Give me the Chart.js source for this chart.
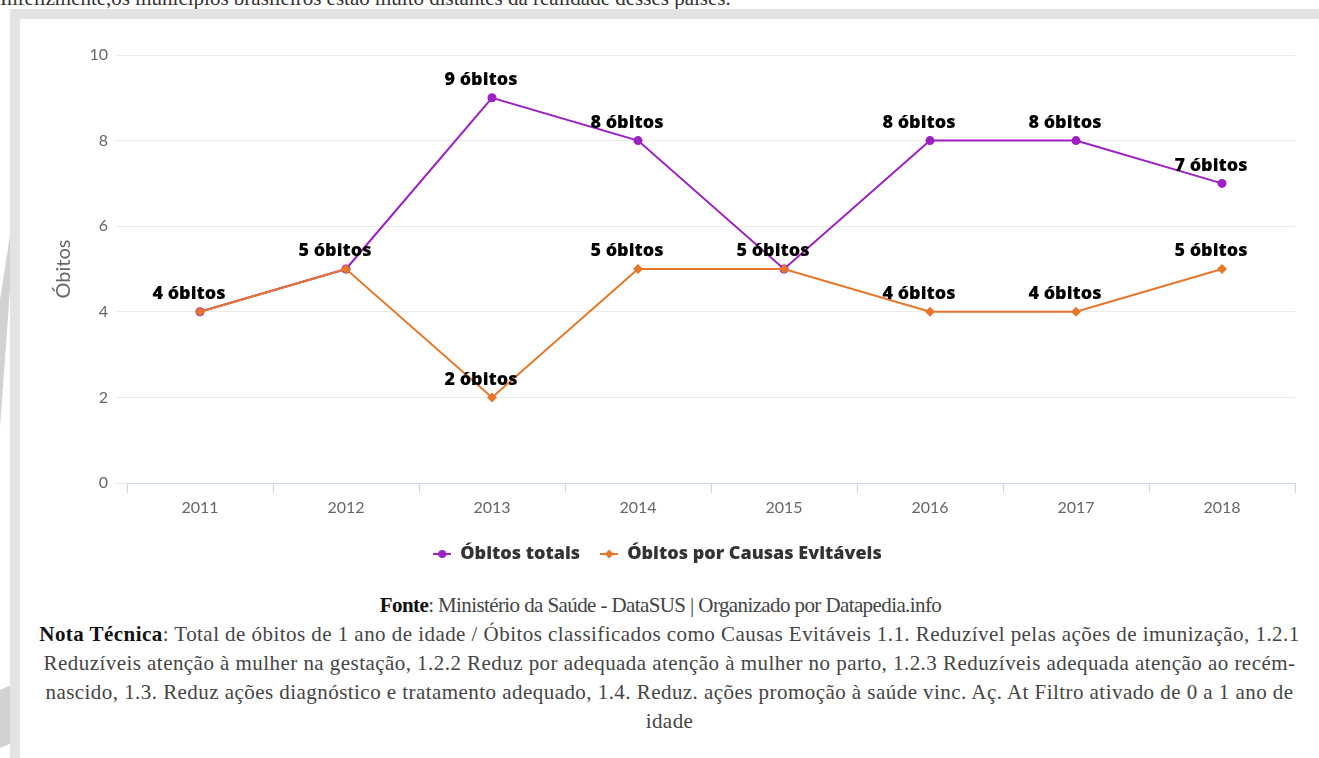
<!DOCTYPE html>
<html lang="pt-BR">
<head>
<meta charset="utf-8">
<title>Óbitos de 0 a 1 ano</title>
<script src="https://cdn.jsdelivr.net/npm/chart.js@4.4.0/dist/chart.umd.min.js"></script>
<style>
  html, body { margin: 0; padding: 0; background: #fff; overflow: hidden; }
  body { width: 1319px; height: 758px; position: relative; }
  .texto { font-family: "Liberation Serif", serif; color: #444; }
  #intro { position: absolute; left: 0; top: -14px; font-size: 21px; white-space: nowrap; color: #333; }
  #faixa { position: absolute; left: 0; top: 0; width: 20px; height: 758px; background: #d2d2d2;
           clip-path: polygon(0 300px, 12px 222px, 12px 262px, 0 428px, 0 690px, 16px 683px, 16px 741px, 0 748px); }
  #moldura { position: absolute; left: 10px; top: 9px; right: 0; bottom: 0; background: #e3e3e3; }
  #painel { position: absolute; left: 20px; top: 19px; right: 0; bottom: 0; background: #fff; }
  #grafico { position: absolute; left: 0; top: 0; }
  #nota { position: absolute; left: 0; right: 0; top: 572px; text-align: center; font-size: 21px;
          letter-spacing: 0.45px; line-height: 29px; white-space: nowrap; }
  #nota p { margin: 0; }
  #nota p.fonte { letter-spacing: -0.6px; padding-right: 18px; }
  #nota b { color: #111; }
</style>
</head>
<body>
<div id="intro" class="texto">Infelizmente,os municípios brasileiros estão muito distantes da realidade desses países.</div>
<div id="faixa"></div>
<div id="moldura"></div>
<div id="painel">
  <canvas id="grafico" width="1299" height="556"></canvas>
  <div id="nota" class="texto">
    <p class="fonte"><b>Fonte</b>: Ministério da Saúde - DataSUS | Organizado por Datapedia.info</p>
    <p><b>Nota Técnica</b>: Total de óbitos de 1 ano de idade / Óbitos classificados como Causas Evitáveis 1.1. Reduzível pelas ações de imunização, 1.2.1<br>
    Reduzíveis atenção à mulher na gestação, 1.2.2 Reduz por adequada atenção à mulher no parto, 1.2.3 Reduzíveis adequada atenção ao recém-<br>
    nascido, 1.3. Reduz ações diagnóstico e tratamento adequado, 1.4. Reduz. ações promoção à saúde vinc. Aç. At Filtro ativado de 0 a 1 ano de<br>
    idade</p>
  </div>
</div>

<script>
// anos e séries
const anos = ["2011", "2012", "2013", "2014", "2015", "2016", "2017", "2018"];
const obitosTotais = [4, 5, 9, 8, 5, 8, 8, 7];
const obitosEvitaveis = [4, 5, 2, 5, 5, 4, 4, 5];
const ticksY = [0, 2, 4, 6, 8, 10];

const roxo = "#9c20c2";
const laranja = "#e6772a";
const corGrade = "#ececec";
const corEixo = "#ccd6eb";
const fonteNegrito = "'Open Sans', Lato, sans-serif";

// ícone da legenda: linha com o marcador da série
function iconeLegenda(cor, forma) {
  const c = document.createElement("canvas");
  c.width = 18;
  c.height = 12;
  const g = c.getContext("2d");
  g.strokeStyle = cor;
  g.fillStyle = cor;
  g.lineWidth = 2;
  g.beginPath();
  g.moveTo(0, 6);
  g.lineTo(18, 6);
  g.stroke();
  g.beginPath();
  if (forma == "circulo") {
    g.arc(9, 6, 4, 0, Math.PI * 2);
  } else {
    g.moveTo(9, 1.5);
    g.lineTo(13.5, 6);
    g.lineTo(9, 10.5);
    g.lineTo(4.5, 6);
    g.closePath();
  }
  g.fill();
  return c;
}

//* rótulos "x óbitos" em cima dos pontos
const rotulos = {
  id: "rotulos",
  afterDatasetsDraw(chart) {
    const ctx = chart.ctx;
    const series = chart.data.datasets;
    ctx.save();
    ctx.font = "800 18px " + fonteNegrito;
    ctx.fillStyle = "#000";
    ctx.textAlign = "center";
    ctx.textBaseline = "middle";
    series.forEach((serie, i) => {
      const meta = chart.getDatasetMeta(i);
      meta.data.forEach((ponto, j) => {
        // quando as duas séries coincidem só um rótulo aparece
        if (i == 0 && serie.data[j] == series[1].data[j]) return;
        ctx.fillText(serie.data[j] + " óbitos", ponto.x - 11, ponto.y - 18);
      });
    });
    ctx.restore();
  },
};

const config = {
  type: "line",
  data: {
    labels: anos,
    datasets: [
      {
        label: "Óbitos totais",
        data: obitosTotais,
        borderColor: roxo,
        backgroundColor: roxo,
        borderWidth: 2,
        pointStyle: "circle",
        pointRadius: 4.5,
        pointBorderWidth: 0,
        tension: 0,
        order: 2,
      },
      {
        label: "Óbitos por Causas Evitáveis",
        data: obitosEvitaveis,
        borderColor: laranja,
        backgroundColor: laranja,
        borderWidth: 2,
        pointStyle: "rectRot",
        pointRadius: 5,
        pointBorderWidth: 0,
        tension: 0,
        order: 1,
      },
    ],
  },
  options: {
    responsive: false,
    animation: false,
    events: [],
    layout: { padding: { left: 0, right: 24, top: 36, bottom: 2 } },
    scales: {
      x: {
        offset: true,
        grid: { display: true, drawOnChartArea: false, offset: true, tickLength: 10, color: corEixo },
        border: { display: true, color: corEixo, width: 1 },
        ticks: { color: "#666", font: { family: "Lato", size: 16 }, padding: 5 },
        afterFit: (s) => { s.height = 42; },
      },
      y: {
        min: 0,
        max: 10,
        afterBuildTicks: (s) => { s.ticks = ticksY.map((v) => ({ value: v })); },
        grid: { color: corGrade, drawTicks: true, tickLength: 12 },
        border: { display: false },
        ticks: { color: "#666", font: { family: "Lato", size: 16 }, padding: 7 },
        title: {
          display: true,
          text: "Óbitos",
          color: "#666",
          font: { family: "Lato", size: 20 },
          padding: { top: 32, bottom: 0 },
        },
        afterFit: (s) => { s.width = 107; },
      },
    },
    plugins: {
      tooltip: { enabled: false },
      legend: {
        position: "bottom",
        labels: {
          usePointStyle: true,
          padding: 20,
          color: "#333",
          font: { family: fonteNegrito, size: 18, weight: "800" },
          generateLabels: (chart) =>
            chart.data.datasets.map((ds, i) => ({
              text: ds.label,
              pointStyle: iconeLegenda(ds.borderColor, i == 0 ? "circulo" : "losango"),
              fontColor: "#333",
              lineWidth: 0,
              strokeStyle: "transparent",
              fillStyle: ds.borderColor,
              datasetIndex: i,
            })),
        },
      },
    },
  },
  plugins: [rotulos],
};

new Chart(document.getElementById("grafico"), config);
</script>
</body>
</html>
